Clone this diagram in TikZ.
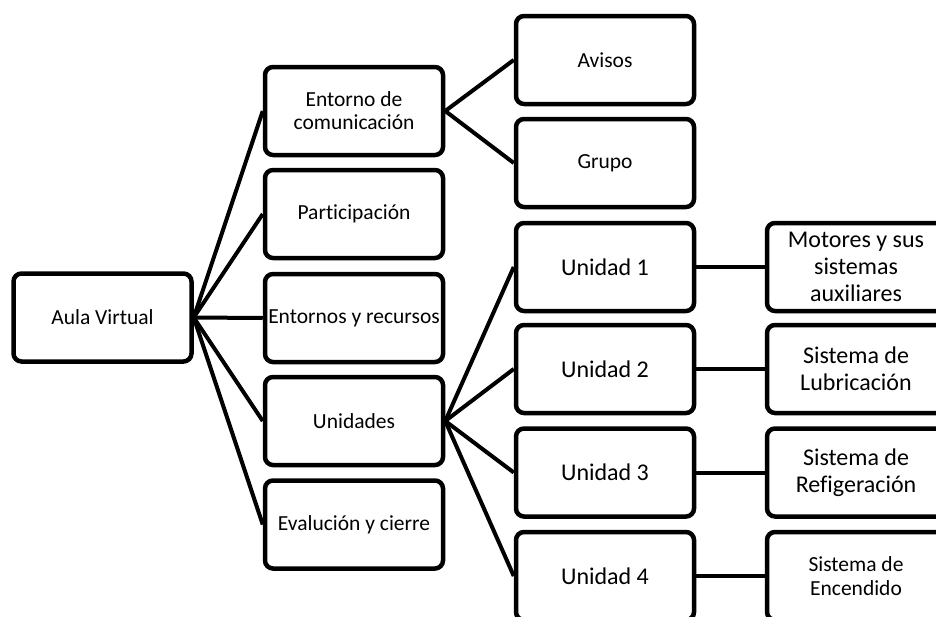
\documentclass[tikz,border=0pt]{standalone}
\usepackage{fontspec}
\setmainfont{Carlito}[Ligatures=NoCommon]
\usepackage{tikz}

\begin{document}
\begin{tikzpicture}[x=1pt,y=-1pt,
    caja/.style={draw,line width=4.5pt,rounded corners=8pt,minimum width=178pt,minimum height=88pt,inner sep=0pt,align=center,font=\fontsize{21.5}{23}\selectfont},
    grande/.style={font=\fontsize{24}{28}\selectfont},
    medio/.style={font=\fontsize{24}{27}\selectfont},
    linea/.style={line width=4pt}]
    \useasboundingbox (0,0) rectangle (936,616);
    \clip (0,0) rectangle (936,616);

    \node[caja] (aula) at (102.5,317.5) {Aula Virtual};

    \node[caja] (entorno) at (354,111) {Entorno de\\comunicación};
    \node[caja] (part) at (354,214) {Participación};
    \node[caja] (recursos) at (354,318) {Entornos y recursos};
    \node[caja] (unidades) at (354,421) {Unidades};
    \node[caja] (eval) at (354,524.5) {Evalución y cierre};

    \node[caja] (avisos) at (605,60) {Avisos};
    \node[caja] (grupo) at (605,163) {Grupo};
    \node[caja,grande] (u1) at (605,267) {Unidad 1};
    \node[caja,grande] (u2) at (605,369) {Unidad 2};
    \node[caja,grande] (u3) at (605,472.5) {Unidad 3};
    \node[caja,grande] (u4) at (605,576) {Unidad 4};

    \node[caja,medio] (motores) at (856,267) {Motores y sus\\sistemas\\auxiliares};
    \node[caja,medio] (lubri) at (856,369) {Sistema de\\Lubricación};
    \node[caja,medio] (refri) at (856,472.5) {Sistema de\\Refigeración};
    \node[caja,font=\fontsize{21.5}{24}\selectfont] (encen) at (856,576) {Sistema de\\Encendido};

    \foreach \n in {entorno,part,recursos,unidades,eval}
        \draw[linea] (aula.east)--(\n.west);
    \draw[linea] (entorno.east)--(avisos.west);
    \draw[linea] (entorno.east)--(grupo.west);
    \foreach \n in {u1,u2,u3,u4}
        \draw[linea] (unidades.east)--(\n.west);
    \draw[linea] (u1)--(motores);
    \draw[linea] (u2)--(lubri);
    \draw[linea] (u3)--(refri);
    \draw[linea] (u4)--(encen);
\end{tikzpicture}
\end{document}
